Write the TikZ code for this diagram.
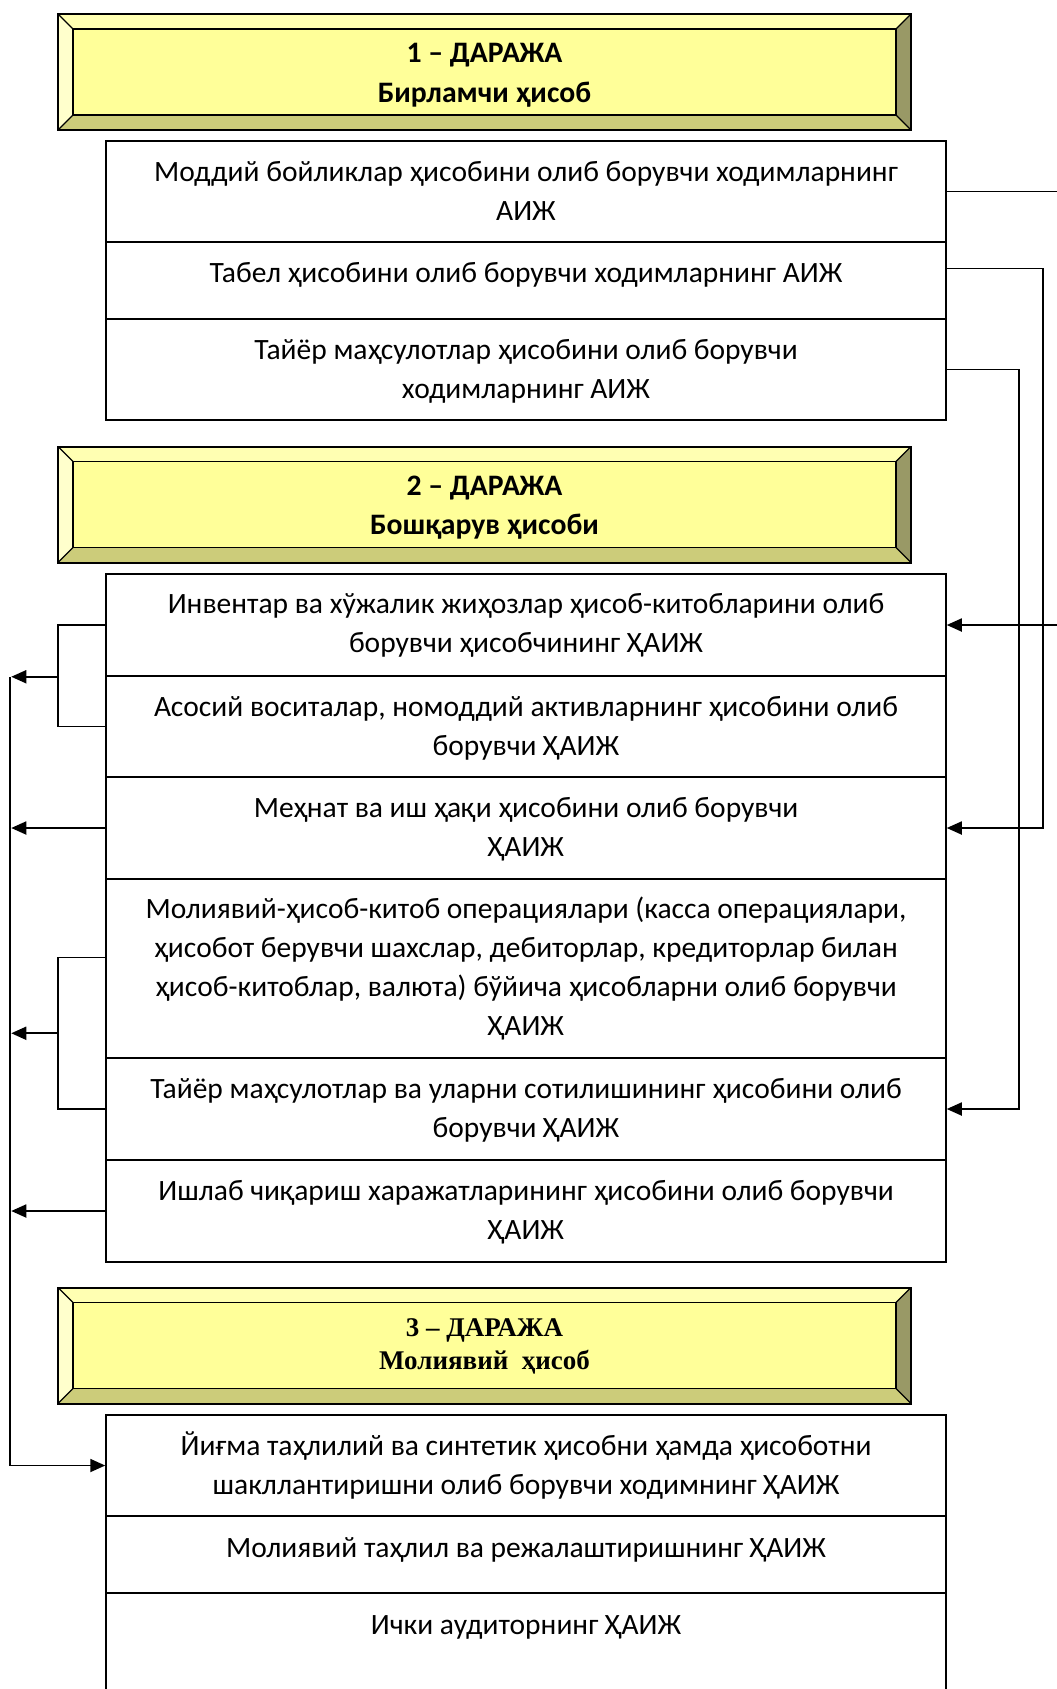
\documentclass[tikz,border=0pt]{standalone}
\usepackage{fontspec}
\setmainfont{Carlito}
\newfontfamily\hdrserif{Liberation Serif}
\usepackage{tikz}
\usetikzlibrary{arrows.meta,calc}

\definecolor{lvface}{HTML}{FFFF99}
\definecolor{lvtop}{HTML}{FFFFB2}
\definecolor{lvleft}{HTML}{FFFFCC}
\definecolor{lvright}{HTML}{999966}
\definecolor{lvbottom}{HTML}{CCCC7A}

\tikzset{
  level/.style={draw=black, line width=2pt, fill=lvface, minimum width=853pt,
    minimum height=116pt, inner sep=0pt,
    path picture={
      \path (path picture bounding box.north west) coordinate (pnw)
            (path picture bounding box.north east) coordinate (pne)
            (path picture bounding box.south east) coordinate (pse)
            (path picture bounding box.south west) coordinate (psw);
      \fill[lvtop] (pnw) -- (pne) -- ([shift={(-15pt,-15pt)}]pne) -- ([shift={(15pt,-15pt)}]pnw) -- cycle;
      \fill[lvleft] (pnw) -- ([shift={(15pt,-15pt)}]pnw) -- ([shift={(15pt,15pt)}]psw) -- (psw) -- cycle;
      \fill[lvright] (pne) -- (pse) -- ([shift={(-15pt,15pt)}]pse) -- ([shift={(-15pt,-15pt)}]pne) -- cycle;
      \fill[lvbottom] (psw) -- (pse) -- ([shift={(-15pt,15pt)}]pse) -- ([shift={(15pt,15pt)}]psw) -- cycle;
      \draw[line width=1.3pt] ([shift={(15pt,-15pt)}]pnw) rectangle ([shift={(-15pt,15pt)}]pse);
      \draw[line width=1.3pt] (pnw) -- ([shift={(15pt,-15pt)}]pnw)
        (pne) -- ([shift={(-15pt,-15pt)}]pne)
        (pse) -- ([shift={(-15pt,15pt)}]pse)
        (psw) -- ([shift={(15pt,15pt)}]psw);
    }},
  lvtext/.style={align=center, inner sep=0pt, font=\bfseries\fontsize{29.7}{39.5}\selectfont},
  lvserif/.style={align=center, inner sep=0pt, font=\hdrserif\bfseries\fontsize{27}{32.5}\selectfont},
  row/.style={draw=black, line width=1.5pt, minimum width=840pt, inner sep=0pt},
  txt/.style={anchor=base, align=center, inner sep=0pt, font=\fontsize{29.5}{39}\selectfont},
  conn/.style={line width=1.8pt},
}

\begin{document}
\begin{tikzpicture}[x=1pt, y=-1pt, line width=1.5pt, >={Triangle[length=15pt,width=13pt]}]
\useasboundingbox (0,0) rectangle (1057,1689);

\node[level] (l1) at (484.5,72) {};
\node[lvtext] (l1t) at ([yshift=-3pt]l1.center) {1 – ДАРАЖА\\Бирламчи ҳисоб};

\node[row, minimum height=101pt] (m1) at (526,191.5) {};
\node[row, minimum height=77pt] (m2) at (526,280.5) {};
\node[row, minimum height=101pt] (m3) at (526,369.5) {};
\node[txt] (m1t) at ([yshift=-80pt]m1.north) {Моддий бойликлар ҳисобини олиб борувчи ходимларнинг\\АИЖ};
\node[txt] (m2t) at ([yshift=-41pt]m2.north) {Табел ҳисобини олиб борувчи ходимларнинг АИЖ};
\node[txt] (m3t) at ([yshift=-80pt]m3.north) {Тайёр маҳсулотлар ҳисобини олиб борувчи\\ходимларнинг АИЖ};

\node[level] (l2) at (484.5,504.5) {};
\node[lvtext] (l2t) at ([yshift=-3pt]l2.center) {2 – ДАРАЖА\\Бошқарув ҳисоби};

\node[row, minimum height=102pt] (b1) at (526,625) {};
\node[row, minimum height=101pt] (b2) at (526,726.5) {};
\node[row, minimum height=102pt] (b3) at (526,828) {};
\node[row, minimum height=179pt] (b4) at (526,968.5) {};
\node[row, minimum height=102pt] (b5) at (526,1109) {};
\node[row, minimum height=102pt] (b6) at (526,1211) {};
\node[txt] (b1t) at ([yshift=-79pt]b1.north) {Инвентар ва хўжалик жиҳозлар ҳисоб-китобларини олиб\\борувчи ҳисобчининг ҲАИЖ};
\node[txt] (b2t) at ([yshift=-80pt]b2.north) {Асосий воситалар, номоддий активларнинг ҳисобини олиб\\борувчи ҲАИЖ};
\node[txt] (b3t) at ([yshift=-80pt]b3.north) {Меҳнат ва иш ҳақи ҳисобини олиб борувчи\\ҲАИЖ};
\node[txt] (b4t) at ([yshift=-157pt]b4.north) {Молиявий-ҳисоб-китоб операциялари (касса операциялари,\\ҳисобот берувчи шахслар, дебиторлар, кредиторлар билан\\ҳисоб-китоблар, валюта) бўйича ҳисобларни олиб борувчи\\ҲАИЖ};
\node[txt] (b5t) at ([yshift=-80pt]b5.north) {Тайёр маҳсулотлар ва уларни сотилишининг ҳисобини олиб\\борувчи ҲАИЖ};
\node[txt] (b6t) at ([yshift=-80pt]b6.north) {Ишлаб чиқариш харажатларининг ҳисобини олиб борувчи\\ҲАИЖ};

\node[level] (l3) at (484.5,1345.5) {};
\node[lvserif] (l3t) at ([yshift=-1pt]l3.center) {3 – ДАРАЖА\\Молиявий\ \ ҳисоб};

\node[row, minimum height=101pt] (c1) at (526,1465.5) {};
\node[row, minimum height=77pt] (c2) at (526,1554.5) {};
\node[row, minimum height=127pt] (c3) at (526,1656.5) {};
\node[txt] (c1t) at ([yshift=-80pt]c1.north) {Йиғма таҳлилий ва синтетик ҳисобни ҳамда ҳисоботни\\шакллантиришни олиб борувчи ходимнинг ҲАИЖ};
\node[txt] (c2t) at ([yshift=-42pt]c2.north) {Молиявий таҳлил ва режалаштиришнинг ҲАИЖ};
\node[txt] (c3t) at ([yshift=-42pt]c3.north) {Ички аудиторнинг ҲАИЖ};

\draw[conn, ->] (m1.east) -- ++(124,0) |- (b1.east);
\draw[conn, ->] ([yshift=12pt]m2.east) -- ++(96,0) |- (b3.east);
\draw[conn, ->] (m3.east) -- ++(72,0) |- (b5.east);

\draw[conn] (b1.west) -- ++(-47,0) |- (b2.west);
\draw[conn, ->] ([xshift=-47pt]b1.south west) -- ([xshift=-94pt]b1.south west);
\draw[conn, ->] (b3.west) -- ++(-94,0);
\draw[conn] ([yshift=11pt]b4.west) -- ++(-47,0) |- (b5.west);
\coordinate (k2) at ($([yshift=11pt]b4.west)!0.5!(b5.west)$);
\draw[conn, ->] ([xshift=-47pt]k2) -- ([xshift=-94pt]k2);
\draw[conn, ->] (b6.west) -- ++(-94,0);
\draw[conn, ->] ([xshift=-95pt]b1.south west) |- (c1.west);
\end{tikzpicture}
\end{document}
